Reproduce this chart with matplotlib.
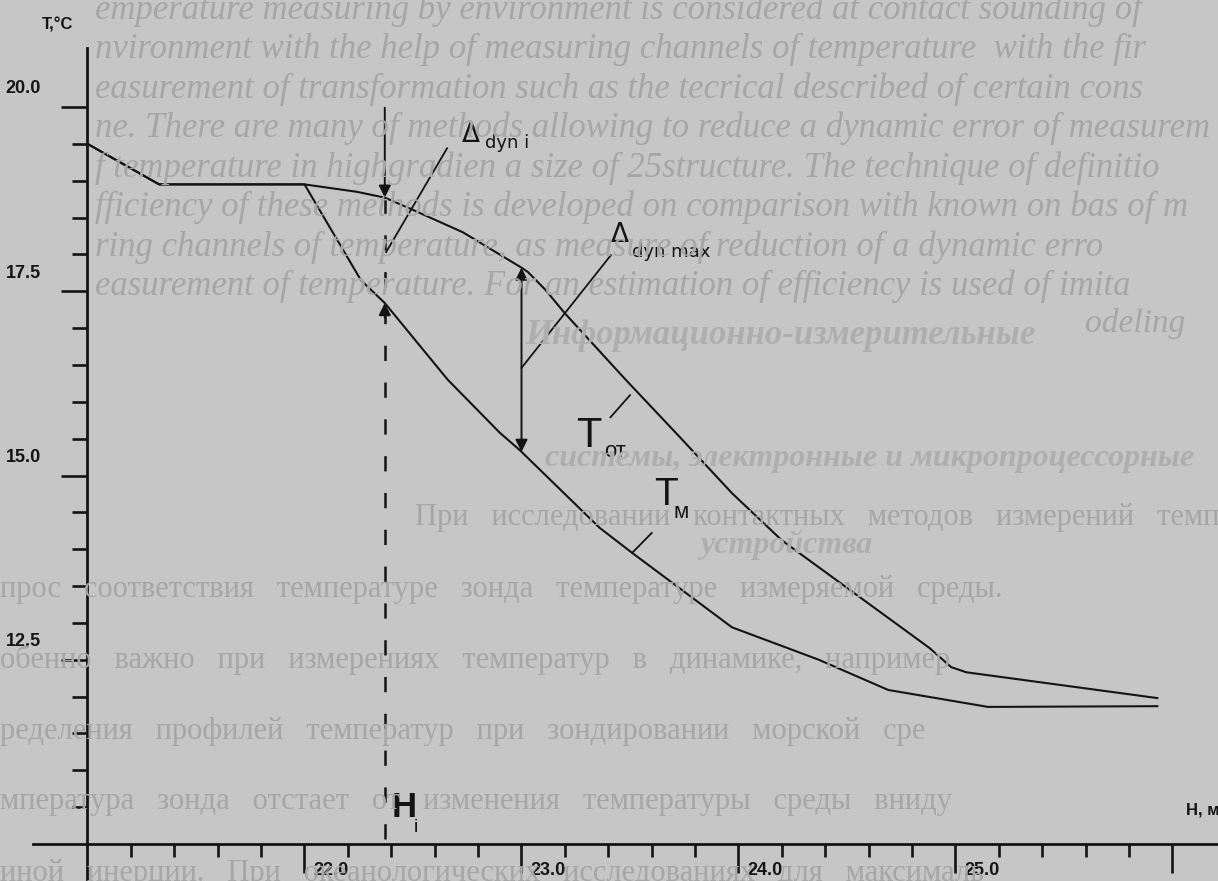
import numpy as np
import matplotlib
matplotlib.use("Agg")
import matplotlib.pyplot as plt
from matplotlib.ticker import FixedLocator

# depth H, m  and temperature T, C
# upper curve - T_от, lower curve - T_м
h_upper = [21.0, 21.33, 22.0, 22.24, 22.37, 22.48, 22.73, 23.0, 23.03, 23.11, 23.2,
           23.48, 23.73, 23.97, 24.2, 24.88, 24.98, 25.05, 25.93]
t_upper = [19.5, 18.95, 18.95, 18.85, 18.77, 18.63, 18.3, 17.82, 17.76, 17.52, 17.2,
           16.3, 15.52, 14.76, 14.12, 12.66, 12.40, 12.33, 11.98]

h_lower = [21.0, 21.33, 22.0, 22.26, 22.37, 22.66, 22.9, 22.99, 23.36, 23.51,
           23.97, 24.37, 24.69, 25.15, 25.93]
t_lower = [19.5, 18.95, 18.95, 17.65, 17.34, 16.3, 15.58, 15.35, 14.29, 13.95,
           12.94, 12.5, 12.09, 11.86, 11.87]

h_i = 22.37        # dashed line H_i
h_dmax = 23.0      # where the max dynamic error is marked

y_major = [12.5, 15.0, 17.5, 20.0]
y_minor = [10.5, 11.0, 11.5, 12.0, 13.0, 13.5, 14.0, 14.5, 15.5, 16.0, 16.5, 17.0,
           18.0, 18.5, 19.0, 19.5]
x_major = [22.0, 23.0, 24.0, 25.0, 26.0]
x_labels = ["22.0", "23.0", "24.0", "25.0"]
y_labels = ["12.5", "15.0", "17.5", "20.0"]
x_minor = [21.2, 21.4, 21.6, 21.8, 22.2, 22.4, 22.6, 22.8, 23.2, 23.4, 23.6, 23.8,
           24.2, 24.4, 24.6, 24.8, 25.2, 25.4, 25.6, 25.8]

# show-through text of the scanned page
bleed_en = [
    "emperature measuring by environment is considered at contact sounding of",
    "nvironment with the help of measuring channels of temperature  with the fir",
    "easurement of transformation such as the tecrical described of certain cons",
    "ne. There are many of methods allowing to reduce a dynamic error of measurem",
    "f temperature in highgradien a size of 25structure. The technique of definitio",
    "fficiency of these methods is developed on comparison with known on bas of m",
    "ring channels of temperature, as measure of reduction of a dynamic erro",
    "easurement of temperature. For an estimation of efficiency is used of imita",
]
bleed_ru_head = ["Информационно-измерительные",
                 "системы, электронные и микропроцессорные",
                 "устройства"]
bleed_ru = [
    "При исследовании контактных методов измерений температур возникн",
    "прос соответствия температуре зонда температуре измеряемой среды.",
    "обенно важно при измерениях температур в динамике, например",
    "ределения профилей температур при зондировании морской сре",
    "мпература зонда отстает от изменения температуры среды вниду",
    "иной инерции. При океанологических исследованиях для максималь",
]

plt.rcParams["lines.scale_dashes"] = False
bg = "#c6c6c6"
ink = "#141414"
faint = "#a6a6a6"
narrow = ["Liberation Sans Narrow", "Liberation Sans", "DejaVu Sans"]

W, H = 1218, 881
fig = plt.figure(figsize=(W / 100, H / 100), dpi=100, facecolor=bg)
ax = fig.add_axes([0, 0, 1, 1])
ax.set_facecolor(bg)
ax.set_xlim(21 + (0 - 87.5) / 217, 21 + (W - 87.5) / 217)
ax.set_ylim(10 + (844 - H) / 73.7, 10 + 844 / 73.7)

# faint text from the back of the page
for i, s in enumerate(bleed_en):
    fig.text(95 / W, 1 - (10 + 39.5 * i) / H, s, color=faint, fontsize=25,
             family="Liberation Serif", style="italic", va="center", zorder=0)
fig.text(1085 / W, 1 - 323 / H, "odeling", color=faint, fontsize=24,
         family="Liberation Serif", style="italic", va="center", zorder=0)
for s, (x, y, fs) in zip(bleed_ru_head, [(525, 335, 25), (545, 458, 23), (700, 545, 23)]):
    fig.text(x / W, 1 - y / H, s, color="#aeaeae", fontsize=fs, family="Liberation Serif",
             style="italic", weight="bold", va="center", zorder=0)
for i, s in enumerate(bleed_ru):
    x0 = 415 if i == 0 else 0
    fig.text(x0 / W, 1 - (518 + 71 * i) / H, s.replace(" ", "   "), color=faint,
             fontsize=22, family="Liberation Serif", va="center", zorder=0)

# axes lines
for side in ["top", "right"]:
    ax.spines[side].set_visible(False)
ax.spines["left"].set_position(("data", 21.0))
ax.spines["bottom"].set_position(("data", 10.0))
ax.spines["left"].set_bounds(9.49, 20.8)
ax.spines["bottom"].set_bounds(20.75, 26.3)
for side in ["left", "bottom"]:
    ax.spines[side].set_linewidth(2.0)
    ax.spines[side].set_color(ink)
    ax.spines[side].set_zorder(3)

ax.yaxis.set_major_locator(FixedLocator(y_major))
ax.yaxis.set_minor_locator(FixedLocator(y_minor))
ax.xaxis.set_major_locator(FixedLocator(x_major))
ax.xaxis.set_minor_locator(FixedLocator(x_minor))
ax.tick_params(axis="y", which="major", direction="out", length=19, width=1.9, color=ink)
ax.tick_params(axis="y", which="minor", direction="out", length=10.5, width=1.9, color=ink)
ax.tick_params(axis="x", which="major", direction="out", length=21, width=1.9, color=ink)
ax.tick_params(axis="x", which="minor", direction="out", length=9, width=1.9, color=ink)
ax.tick_params(labelleft=False, labelbottom=False)

for v, s in zip(y_major, y_labels):
    ax.text(20.786, v + 0.245, s, ha="right", va="center", fontsize=13,
            family=narrow, weight="bold", color=ink)
for v, s in zip(x_major, x_labels):
    ax.text(v + 0.04, 9.647, s, ha="left", va="center", fontsize=13,
            family=narrow, weight="bold", color=ink)
ax.text(20.79, 21.11, "T,°C", ha="left", va="center", fontsize=12,
        family=narrow, weight="bold", color=ink)
ax.text(26.06, 10.46, "H, м", ha="left", va="center", fontsize=12,
        family=narrow, weight="bold", color=ink)

# the two curves
ax.plot(h_upper, t_upper, color=ink, lw=1.5, zorder=4)
ax.plot(h_lower, t_lower, color=ink, lw=1.5, zorder=4)

t_up_i = np.interp(h_i, h_upper, t_upper)
t_lo_i = np.interp(h_i, h_lower, t_lower)
t_up_m = np.interp(h_dmax, h_upper, t_upper)
t_lo_m = np.interp(h_dmax, h_lower, t_lower)

ax.plot([h_i, h_i], [t_up_i, 9.87], color=ink, lw=1.8, dashes=(11, 15.5), zorder=4)
arrow = dict(arrowstyle="-|>", color=ink, lw=1.4, mutation_scale=18, shrinkA=0, shrinkB=0)
ax.annotate("", xy=(h_i, t_up_i), xytext=(h_i, 19.99), arrowprops=arrow, zorder=5)
ax.annotate("", xy=(h_i, t_lo_i), xytext=(h_i, t_lo_i - 0.2), arrowprops=arrow, zorder=5)
ax.annotate("", xy=(h_dmax, t_lo_m), xytext=(h_dmax, t_up_m),
            arrowprops=dict(arrow, arrowstyle="<|-|>"), zorder=5)

# leader lines
ax.plot([22.376, 22.657], [18.03, 19.44], color=ink, lw=1.3)
ax.plot([h_dmax, 23.412], [16.46, 17.99], color=ink, lw=1.3)
ax.plot([23.41, 23.50], [15.79, 16.09], color=ink, lw=1.3)
ax.plot([23.51, 23.60], [13.95, 14.22], color=ink, lw=1.3)

# labels
ax.text(22.725, 19.53, "Δ", fontsize=19, family="DejaVu Sans", color=ink, va="baseline")
ax.text(22.83, 19.44, "dyn i", fontsize=13, family="DejaVu Sans", color=ink, va="baseline")
ax.text(23.41, 18.17, "Δ", fontsize=19, family="DejaVu Sans", color=ink, va="baseline")
ax.text(23.51, 17.96, "dyn max", fontsize=13, family="DejaVu Sans", color=ink, va="baseline")
ax.text(23.25, 15.39, "T", fontsize=30, family="Liberation Sans", color=ink, va="baseline")
ax.text(23.38, 15.25, "от", fontsize=16, family="Liberation Sans", color=ink, va="baseline")
ax.text(23.61, 14.60, "T", fontsize=28, family="Liberation Sans", color=ink, va="baseline")
ax.text(23.70, 14.42, "м", fontsize=16, family="Liberation Sans", color=ink, va="baseline")
ax.text(22.40, 10.37, "H", fontsize=25, family=narrow, weight="bold", color=ink, va="baseline")
ax.text(22.505, 10.16, "i", fontsize=14, family=narrow, color=ink, va="baseline")

fig.savefig("out.png", dpi=100, facecolor=bg)
